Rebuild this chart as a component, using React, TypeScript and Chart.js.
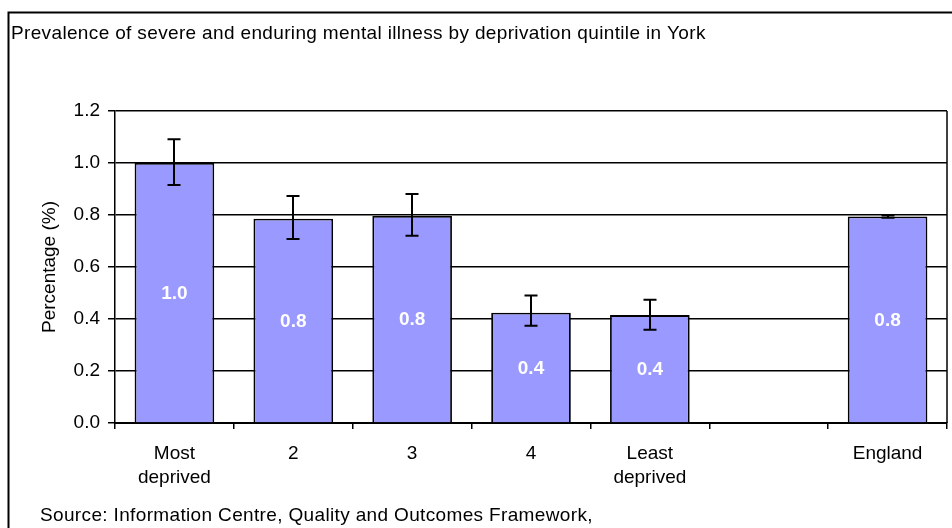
import React, { useEffect, useRef } from "react";
import { Chart, registerables } from "chart.js";

Chart.register(...registerables);

const categories: (string | string[])[] = [["Most", "deprived"], "2", "3", "4", ["Least", "deprived"], "", "England"];
const values: (number | null)[] = [1.0, 0.786, 0.796, 0.424, 0.415, null, 0.794];
const lowerCI: (number | null)[] = [0.915, 0.708, 0.72, 0.374, 0.359, null, 0.789];
const upperCI: (number | null)[] = [1.091, 0.873, 0.881, 0.49, 0.474, null, 0.799];
const yTicks = { min: 0, max: 1.2, step: 0.2 };
const titleText = "Prevalence of severe and enduring mental illness by deprivation quintile in York";
const sourceText = "Source: Information Centre, Quality and Outcomes Framework,";
const yTitle = "Percentage (%)";

const FONT = "'Liberation Sans', Arial, sans-serif";

const decorPlugin = {
  id: "decor",
  afterDatasetsDraw(chart: any) {
    const ctx = chart.ctx;
    const xs = chart.scales.x;
    const ys = chart.scales.y;
    const meta = chart.getDatasetMeta(0);
    ctx.save();
    // data labels
    ctx.fillStyle = "#ffffff";
    ctx.font = `bold 19px ${FONT}`;
    ctx.textAlign = "center";
    ctx.textBaseline = "middle";
    meta.data.forEach((bar: any, i: number) => {
      const v = values[i];
      if (v == null) return;
      const cy = (bar.y + bar.base) / 2;
      ctx.fillText(v.toFixed(1), bar.x, cy + 1);
    });
    // error bars
    ctx.strokeStyle = "#000";
    ctx.lineWidth = 2;
    values.forEach((v, i) => {
      const lo = lowerCI[i];
      const hi = upperCI[i];
      if (v == null || lo == null || hi == null) return;
      const x = Math.round(xs.getPixelForValue(i));
      const yl = ys.getPixelForValue(lo);
      const yh = ys.getPixelForValue(hi);
      ctx.beginPath();
      ctx.moveTo(x, yl);
      ctx.lineTo(x, yh);
      ctx.moveTo(x - 6.5, yl);
      ctx.lineTo(x + 6.5, yl);
      ctx.moveTo(x - 6.5, yh);
      ctx.lineTo(x + 6.5, yh);
      ctx.stroke();
    });
    ctx.restore();
  },
  afterDraw(chart: any) {
    const ctx = chart.ctx;
    const a = chart.chartArea;
    ctx.save();
    ctx.strokeStyle = "#000";
    ctx.lineWidth = 1.5;
    ctx.beginPath();
    ctx.moveTo(a.right, a.top);
    ctx.lineTo(a.right, a.bottom);
    ctx.stroke();
    // outer frame
    ctx.lineWidth = 2;
    ctx.beginPath();
    ctx.moveTo(8.5, 600);
    ctx.lineTo(8.5, 12.5);
    ctx.lineTo(1000, 12.5);
    ctx.stroke();
    // title & source
    ctx.fillStyle = "#000";
    ctx.textAlign = "left";
    ctx.textBaseline = "alphabetic";
    ctx.font = `19px ${FONT}`;
    (ctx as any).letterSpacing = "0.35px";
    ctx.fillText(titleText, 11, 39);
    ctx.fillText(sourceText, 40, 521);
    ctx.restore();
  },
};

export default function App() {
  const ref = useRef<HTMLCanvasElement>(null);
  useEffect(() => {
    if (!ref.current) return;
    const chart = new Chart(ref.current, {
      type: "bar",
      data: {
        labels: categories,
        datasets: [
          {
            data: values,
            backgroundColor: "#9999FF",
            borderColor: "#000000",
            borderWidth: 1.8,
            categoryPercentage: 1,
            barPercentage: 0.67,
          },
        ],
      },
      options: {
        responsive: false,
        animation: false,
        devicePixelRatio: 1,
        layout: { padding: { left: 0, right: 5, top: 111, bottom: 0 } },
        plugins: { legend: { display: false }, tooltip: { enabled: false } },
        scales: {
          x: {
            grid: {
              display: true,
              drawOnChartArea: false,
              drawTicks: true,
              tickLength: 6,
              color: "#000",
              lineWidth: 1.5,
              offset: true,
            },
            border: { color: "#000", width: 2 },
            ticks: {
              color: "#000",
              font: { family: FONT, size: 19, lineHeight: 1.25 },
              padding: 13,
              maxRotation: 0,
              autoSkip: false,
            },
            afterFit: (s: any) => {
              s.height = 105;
            },
          },
          y: {
            min: yTicks.min,
            max: yTicks.max,
            ticks: {
              stepSize: yTicks.step,
              color: "#000",
              font: { family: FONT, size: 19 },
              padding: 8,
              callback: (v: any) => Number(v).toFixed(1),
            },
            grid: { color: "#000", lineWidth: 1.5, tickLength: 7 },
            border: { color: "#000", width: 1.5 },
            title: {
              display: true,
              text: yTitle,
              color: "#000",
              font: { family: FONT, size: 19 },
              padding: { top: 38, bottom: 0 },
            },
            afterFit: (s: any) => {
              s.width = 115;
            },
          },
        },
      },
      plugins: [decorPlugin],
    });
    return () => chart.destroy();
  }, []);
  return (
    <canvas
      ref={ref}
      width={952}
      height={528}
      style={{ position: "fixed", left: 0, top: 0, width: 952, height: 528, display: "block", background: "#fff" }}
    />
  );
}
